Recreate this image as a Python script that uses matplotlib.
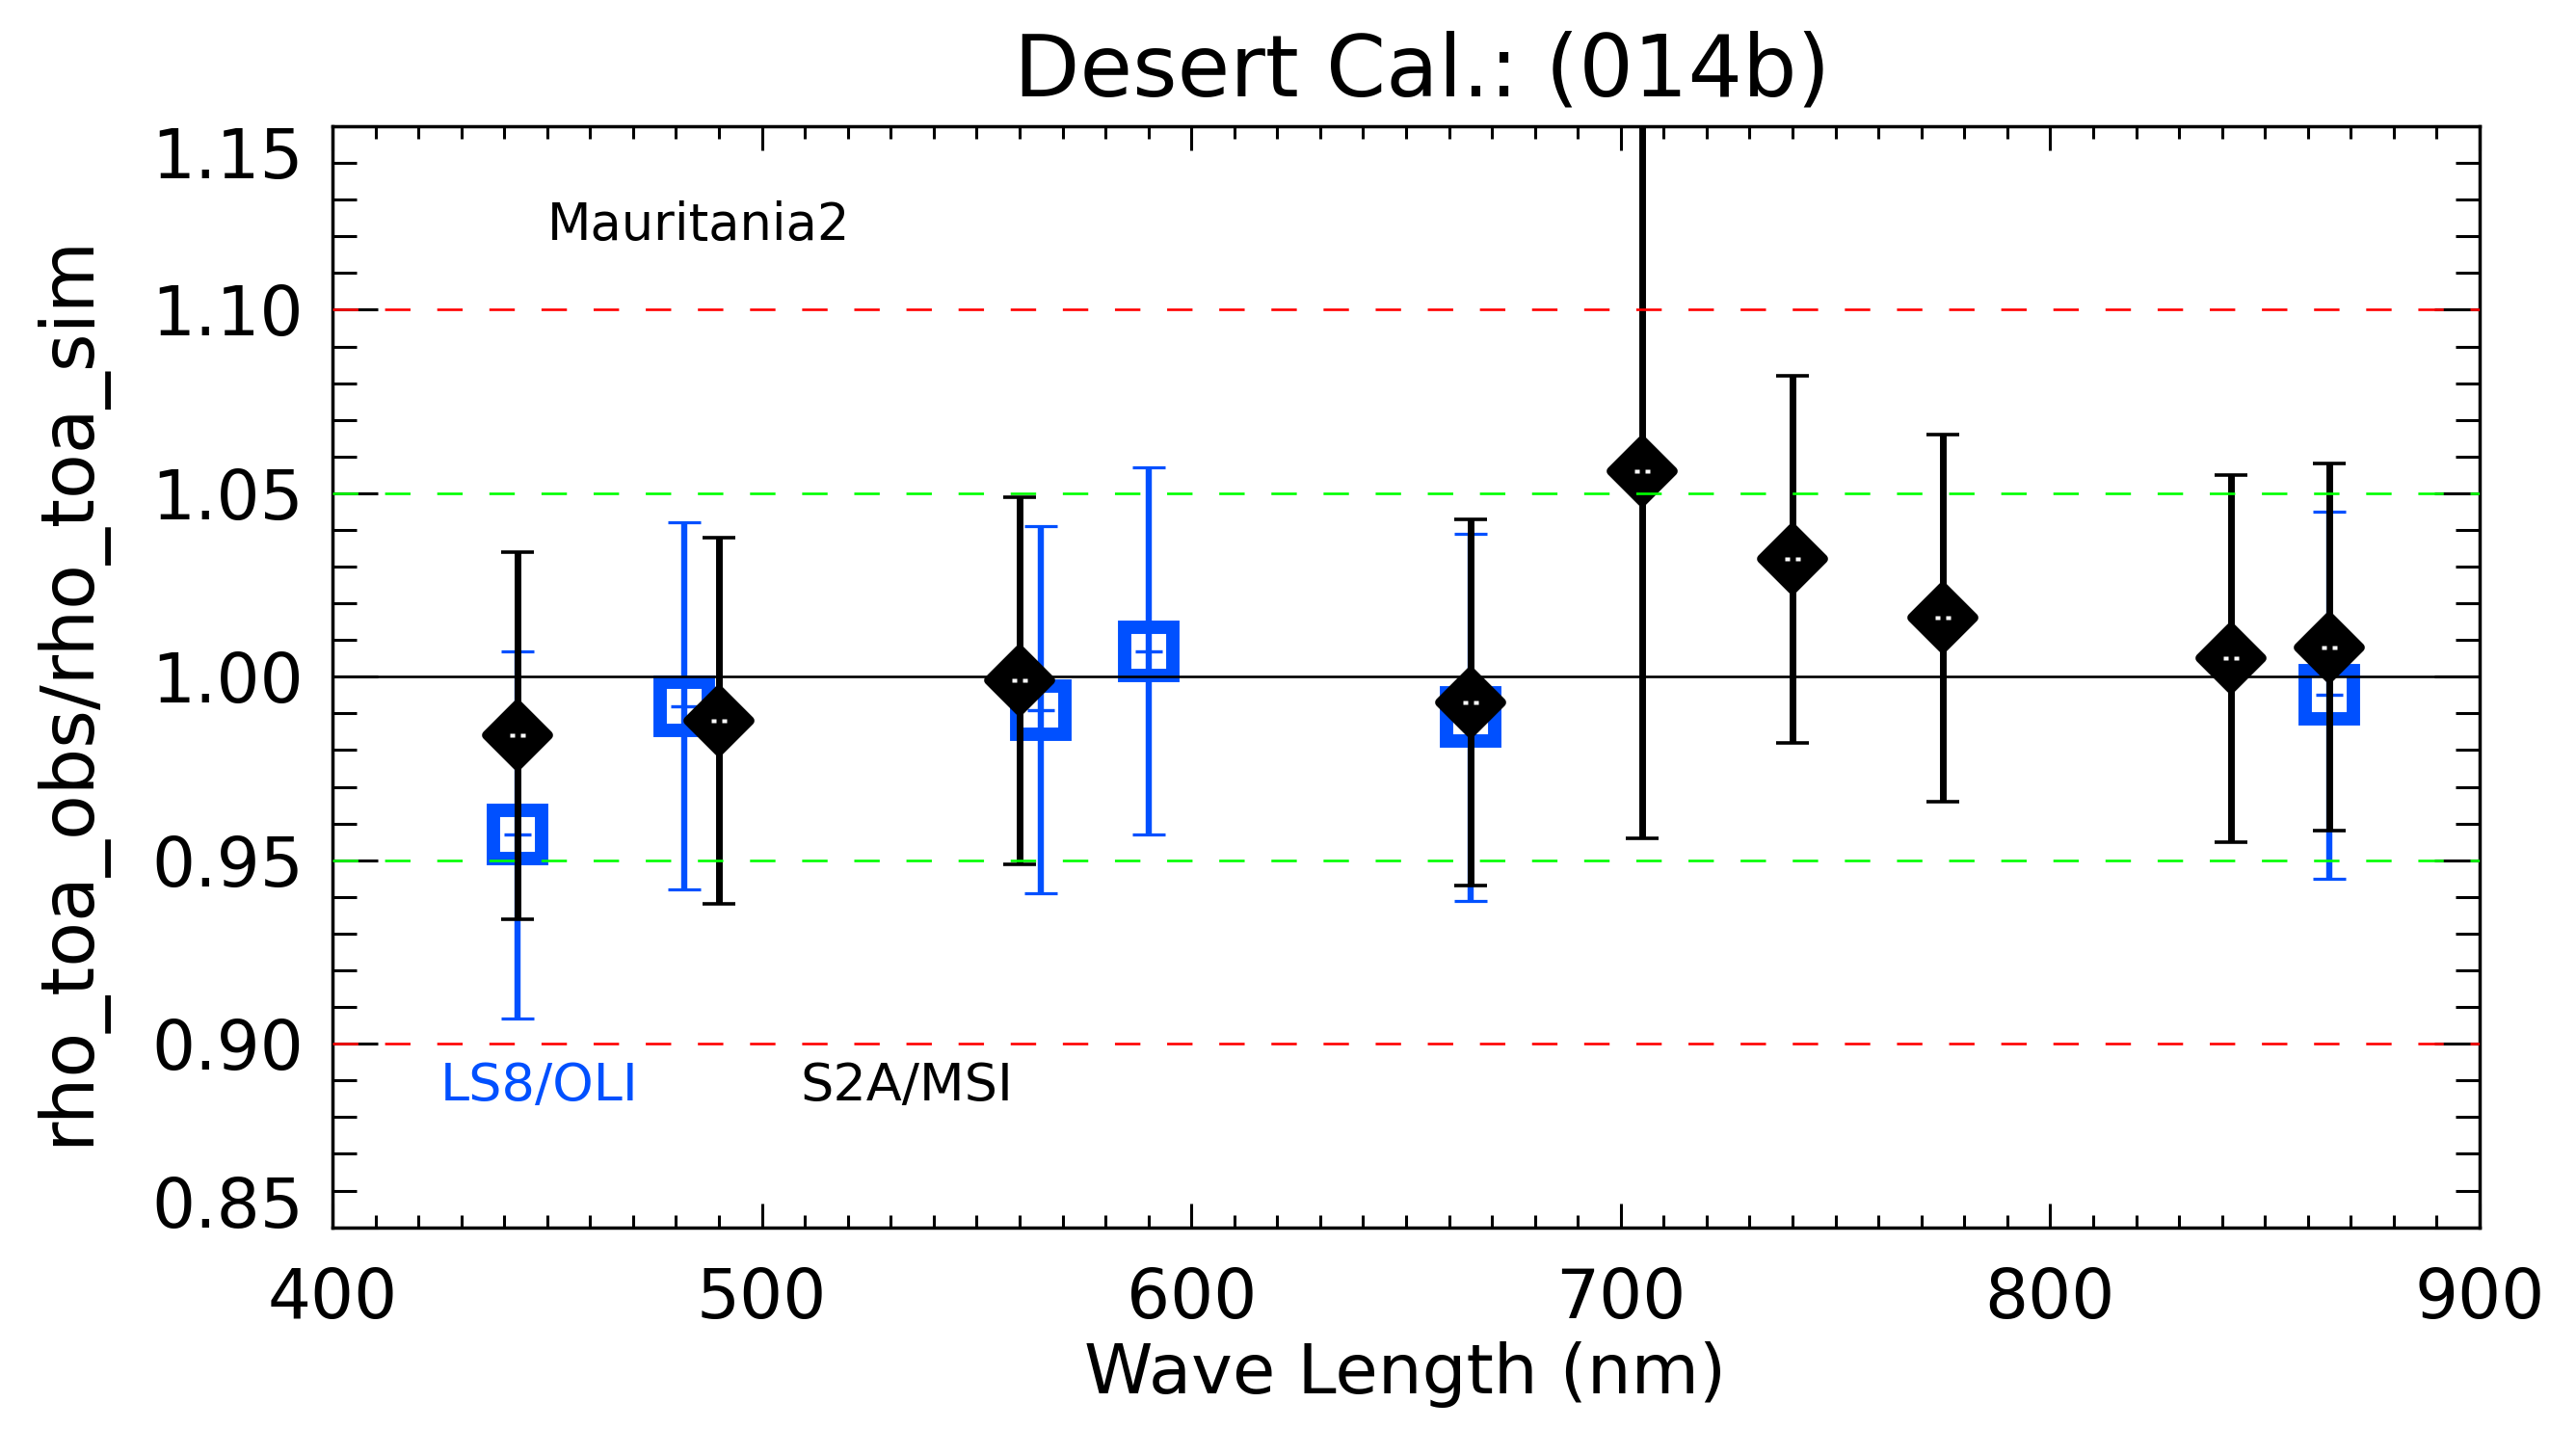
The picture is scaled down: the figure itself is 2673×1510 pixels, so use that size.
import matplotlib
matplotlib.use('Agg')
import matplotlib.pyplot as plt
from matplotlib.markers import MarkerStyle
from matplotlib.path import Path
from matplotlib.ticker import MultipleLocator

# S2A/MSI (black diamonds)
s2a_wl = [443, 490, 560, 665, 705, 740, 775, 842, 865]
s2a_ratio = [0.984, 0.988, 0.999, 0.993, 1.056, 1.032, 1.016, 1.005, 1.008]
s2a_err = [0.050, 0.050, 0.050, 0.050, 0.100, 0.050, 0.050, 0.050, 0.050]

# LS8/OLI (blue squares)
ls8_wl = [443, 482, 565, 590, 665, 865]
ls8_ratio = [0.957, 0.992, 0.991, 1.007, 0.989, 0.995]
ls8_err = [0.050, 0.050, 0.050, 0.050, 0.050, 0.050]

limit_10 = [0.90, 1.10]
limit_5 = [0.95, 1.05]
unity = 1.00

x_ticks = [400, 500, 600, 700, 800, 900]
y_ticks = [0.85, 0.90, 0.95, 1.00, 1.05, 1.10, 1.15]

title = 'Desert Cal.: (014b)'
site = 'Mauritania2'

BLUE = '#0050ff'
GREEN = '#00ff00'
RED = '#ff0000'

plt.rcParams['font.family'] = ['DejaVu Sans']

fig = plt.figure(figsize=(26.73, 15.10), dpi=100)
ax = fig.add_axes([0.12907, 0.15656, 0.83352, 0.75669])

# blue squares with a bar through the middle
ax.errorbar(ls8_wl, ls8_ratio, yerr=ls8_err, fmt='none', ecolor=BLUE,
            elinewidth=4.6, capsize=12.2, capthick=2.3, zorder=2)
ax.plot(ls8_wl, ls8_ratio, ls='none', marker='s', ms=36, mfc='none',
        mec=BLUE, mew=10, zorder=2.1)
ax.plot(ls8_wl, ls8_ratio, ls='none', marker='_', ms=20, mew=2.4,
        color=BLUE, zorder=2.2)

# black diamonds (slightly rounded)
ax.errorbar(s2a_wl, s2a_ratio, yerr=s2a_err, fmt='none', ecolor='black',
            elinewidth=5, capsize=12.2, capthick=2.6, zorder=3)
ax.plot(s2a_wl, s2a_ratio, ls='none', marker=MarkerStyle('D', joinstyle='round'),
        ms=33, mfc='black', mec='black', mew=7, zorder=3.1)
dots = Path([(-8, -2.5), (-3, -2.5), (-3, 2.5), (-8, 2.5), (-8, -2.5),
             (3, -2.5), (8, -2.5), (8, 2.5), (3, 2.5), (3, -2.5)],
            [Path.MOVETO, Path.LINETO, Path.LINETO, Path.LINETO, Path.CLOSEPOLY,
             Path.MOVETO, Path.LINETO, Path.LINETO, Path.LINETO, Path.CLOSEPOLY])
ax.plot(s2a_wl, s2a_ratio, ls='none', marker=dots, ms=11.5, mfc='white',
        mec='none', zorder=3.5)

# reference lines
for v in limit_10:
    ax.axhline(v, color=RED, lw=1.9, dashes=(10, 10.5), zorder=4)
for v in limit_5:
    ax.axhline(v, color=GREEN, lw=1.9, dashes=(10, 10.5), zorder=4)
ax.axhline(unity, color='black', lw=1.9, zorder=4)

ax.set_xlim(400, 900)
ax.set_ylim(0.85, 1.15)
ax.set_xticks(x_ticks)
ax.set_yticks(y_ticks)
ax.set_yticklabels([f'{v:.2f}' for v in y_ticks])
ax.xaxis.set_minor_locator(MultipleLocator(10))
ax.yaxis.set_minor_locator(MultipleLocator(0.01))

ax.tick_params(which='both', direction='in', top=True, right=True,
               width=2.2, color='black', labelsize=51)
ax.tick_params(axis='x', which='major', length=18, pad=28.8)
ax.tick_params(axis='x', which='minor', length=9.4)
ax.tick_params(axis='y', which='major', length=34, pad=21.6)
ax.tick_params(axis='y', which='minor', length=18)
for sp in ax.spines.values():
    sp.set_linewidth(2.5)

yt = ax.yaxis.get_major_ticks()
yt[0].label1.set_verticalalignment('baseline')
yt[-1].label1.set_verticalalignment('top')

ax.text(450, 1.119, site, fontsize=38, color='black', ha='left', va='baseline')
ax.text(425, 0.8845, 'LS8/OLI', fontsize=39, color=BLUE, ha='left', va='baseline')
ax.text(509, 0.8845, 'S2A/MSI', fontsize=39, color='black', ha='left', va='baseline')

fig.text(0.5522, 0.9338, title, fontsize=64, ha='center', va='baseline')
fig.text(0.5455, 0.0424, 'Wave Length (nm)', fontsize=52, ha='center', va='baseline')
fig.text(0.0265, 0.5262, 'rho_toa_obs/rho_toa_sim', fontsize=55, rotation=90,
         ha='center', va='center')

fig.savefig('out.png', dpi=100)
